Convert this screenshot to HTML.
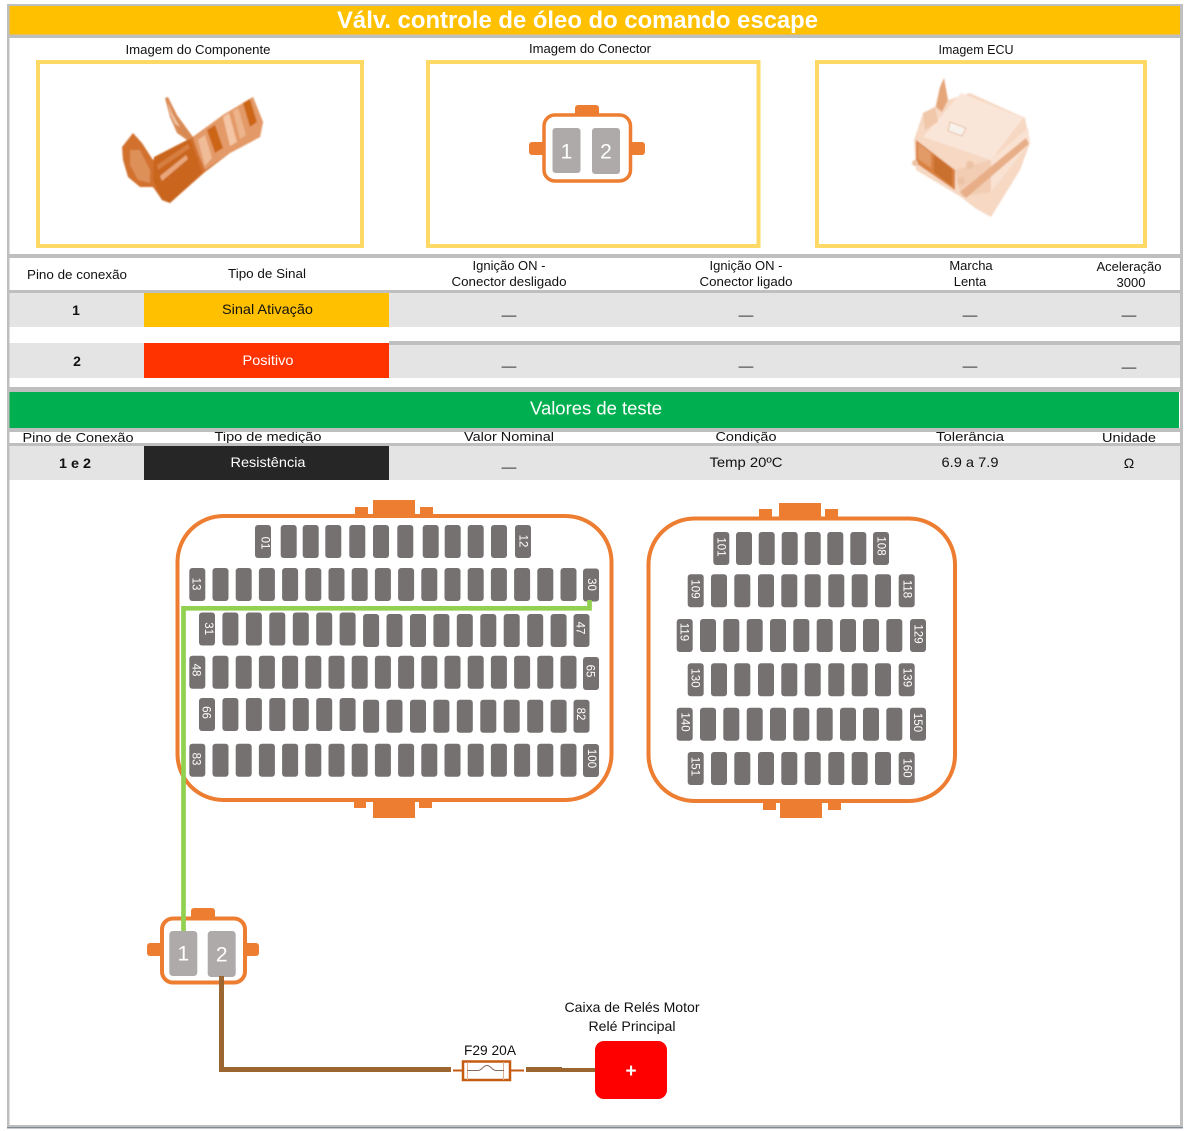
<!DOCTYPE html>
<html lang="pt">
<head>
<meta charset="utf-8">
<title>Válv. controle de óleo do comando escape</title>
<style>
html,body{margin:0;padding:0;background:#fff;width:1189px;height:1131px;overflow:hidden}
svg{display:block;font-family:"Liberation Sans",Arial,sans-serif}
.c{text-anchor:middle;font-size:13px;fill:#111}
.l{text-anchor:middle;font-size:11.5px;fill:#fff;dominant-baseline:central}
.n{text-anchor:middle;font-size:21px;fill:#fff;dominant-baseline:central}
</style>
</head>
<body>
<svg width="1189" height="1131" viewBox="0 0 1189 1131" xmlns="http://www.w3.org/2000/svg">
<defs>
<rect id="p" width="16" height="33" rx="3" fill="#767171"/>
<filter id="b" x="-10%" y="-10%" width="120%" height="120%"><feGaussianBlur stdDeviation="0.9"/></filter>
<g id="r18">
<use href="#p" x="212.5"/><use href="#p" x="235.7"/><use href="#p" x="258.9"/><use href="#p" x="282.1"/><use href="#p" x="305.3"/><use href="#p" x="328.5"/><use href="#p" x="351.7"/><use href="#p" x="374.9"/><use href="#p" x="398.1"/><use href="#p" x="421.3"/><use href="#p" x="444.5"/><use href="#p" x="467.7"/><use href="#p" x="490.9"/><use href="#p" x="514.1"/><use href="#p" x="537.3"/><use href="#p" x="560.5"/><use href="#p" x="189.3"/>
</g>
<g id="r17a"><use href="#p" x="199"/><use href="#p" x="222.4"/><use href="#p" x="245.9"/><use href="#p" x="269.3"/><use href="#p" x="292.8"/><use href="#p" x="316.2"/><use href="#p" x="339.6"/></g>
<g id="r17b"><use href="#p" x="363.1"/><use href="#p" x="386.5"/><use href="#p" x="410"/><use href="#p" x="433.4"/><use href="#p" x="456.8"/><use href="#p" x="480.3"/><use href="#p" x="503.7"/><use href="#p" x="527.2"/><use href="#p" x="550.6"/><use href="#p" x="573.5"/></g>
<g id="s10"><use href="#p" x="687.7"/><use href="#p" x="711"/><use href="#p" x="734.3"/><use href="#p" x="758"/><use href="#p" x="781.3"/><use href="#p" x="804.7"/><use href="#p" x="828.3"/><use href="#p" x="851.7"/><use href="#p" x="875"/><use href="#p" x="898.7"/></g>
<g id="s11"><use href="#p" x="676.7"/><use href="#p" x="700"/><use href="#p" x="723.3"/><use href="#p" x="746.7"/><use href="#p" x="770"/><use href="#p" x="793.3"/><use href="#p" x="816.7"/><use href="#p" x="840"/><use href="#p" x="863"/><use href="#p" x="886.3"/><use href="#p" x="910"/></g>
</defs>

<!-- Title -->
<rect x="9" y="6" width="1171" height="29" fill="#FFC000"/>
<text x="577.5" y="28" text-anchor="middle" font-size="24" font-weight="bold" fill="#fff" textLength="481" lengthAdjust="spacingAndGlyphs">Válv. controle de óleo do comando escape</text>

<!-- Image labels -->
<text class="c" x="198" y="54" textLength="145" lengthAdjust="spacingAndGlyphs">Imagem do Componente</text>
<text class="c" x="590" y="53" textLength="122" lengthAdjust="spacingAndGlyphs">Imagem do Conector</text>
<text class="c" x="976" y="54" textLength="75" lengthAdjust="spacingAndGlyphs">Imagem ECU</text>

<!-- Image frames -->
<rect x="38" y="62" width="324" height="184" fill="#fff" stroke="#FFD966" stroke-width="4"/>
<rect x="428" y="62" width="330.5" height="184" fill="#fff" stroke="#FFD966" stroke-width="4"/>
<rect x="817" y="62" width="328" height="184" fill="#fff" stroke="#FFD966" stroke-width="4"/>

<!-- Valve picture -->
<g filter="url(#b)">
<polygon points="165,98 168,97 177,115 193,137 187,140 177,133 170,117" fill="#D98A52"/>
<polygon points="168,102 172,113 180,127 175,124 170,113" fill="#F0C4A4"/>
<polygon points="122,147 133,133 142,143 153,160 158,155 187,140 193,137 223,115 253,97 263,122 260,137 230,153 205,172 170,203 162,200 153,187 140,187 128,177 123,160" fill="#D2712F"/>
<polygon points="154,157 190,139 198,160 202,173 170,203 162,200 153,180" fill="#C9651F"/>
<polygon points="193,138 223,115 253,97 263,122 260,137 230,153 205,170 198,153" fill="#E39A68"/>
<polygon points="160,176 186,155 188,159 162,181" fill="#E9A67A"/>
<polygon points="157,165 188,144 190,148 158,170" fill="#D67E40"/>
<polygon points="207,130 215,125 223,148 215,153" fill="#CC6618"/>
<polygon points="223,117 229,113 237,142 230,146" fill="#F4C6A6"/>
<polygon points="233,111 238,108 246,135 240,139" fill="#EDB48C"/>
<polygon points="243,103 250,99 257,122 250,127" fill="#CC6618"/>
<polygon points="198,140 205,135 212,158 205,166" fill="#F0BC98"/>
<polygon points="130,150 140,150 150,170 150,183 138,180 130,165" fill="#DD9058"/>
</g>

<!-- ECU picture -->
<g filter="url(#b)">
<polygon points="944,78 948,100 970,93 1025,118 1030,143 1020,170 991,217 975,208 961,197 916,170 914,140 923,113 935,107 940,87" fill="#F6D8C3"/>
<polygon points="961,93 1023,118 991,160 923,137" fill="#FAE6D9"/>
<polygon points="916,140 955,170 955,190 916,163" fill="#D9813F"/>
<polygon points="918,143 931,153 931,168 918,159" fill="#E29A66"/>
<polygon points="934,155 952,169 952,186 934,172" fill="#C96F2E"/>
<polygon points="955,170 991,160 991,192 961,197" fill="#F2CDB3"/>
<polygon points="991,160 1028,128 1030,143 991,192" fill="#F9E2D2"/>
<polygon points="960,192 1026,138 1029,144 966,198" fill="#E8AE88"/>
<polygon points="950,122 966,128 962,136 948,131" fill="#F8F2EC" stroke="#E2B28F" stroke-width=".8"/>
<polygon points="944,78 948,100 942,112 936,107 940,87" fill="#E5A67A"/>
<polygon points="923,113 935,107 938,122 925,130" fill="#F0C7A9"/>
<circle cx="970" cy="165" r="4" fill="#EDC3A5"/><circle cx="961" cy="181" r="4" fill="#EDC3A5"/><circle cx="915" cy="163" r="3" fill="#EDC3A5"/>
</g>

<!-- Table 1 text -->
<text class="c" x="77" y="279" textLength="100" lengthAdjust="spacingAndGlyphs">Pino de conexão</text>
<text class="c" x="267" y="278" textLength="78" lengthAdjust="spacingAndGlyphs">Tipo de Sinal</text>
<text class="c" x="509" y="270">Ignição ON -</text>
<text class="c" x="509" y="286" textLength="115" lengthAdjust="spacingAndGlyphs">Conector desligado</text>
<text class="c" x="746" y="270">Ignição ON -</text>
<text class="c" x="746" y="286" textLength="93" lengthAdjust="spacingAndGlyphs">Conector ligado</text>
<text class="c" x="971" y="270">Marcha</text>
<text class="c" x="970" y="286">Lenta</text>
<text class="c" x="1129" y="271">Aceleração</text>
<text class="c" x="1131" y="287">3000</text>

<rect x="9" y="293" width="1171" height="34" fill="#E4E4E4"/>
<rect x="9" y="343" width="1171" height="35" fill="#E4E4E4"/>
<rect x="144" y="293" width="245" height="34" fill="#FFC000"/>
<rect x="144" y="343" width="245" height="35" fill="#FF3300"/>
<text class="c" x="76" y="315" style="font-weight:bold;font-size:14px">1</text>
<text class="c" x="77" y="366" style="font-weight:bold;font-size:14px">2</text>
<text class="c" x="267.5" y="314" style="font-size:14px" textLength="91" lengthAdjust="spacingAndGlyphs">Sinal Ativação</text>
<text class="c" x="268" y="365" style="font-size:14px;fill:#fff" textLength="51" lengthAdjust="spacingAndGlyphs">Positivo</text>
<text class="c" x="509" y="314">__</text><text class="c" x="746" y="314">__</text><text class="c" x="970" y="314">__</text><text class="c" x="1129" y="314">__</text>
<text class="c" x="509" y="365">__</text><text class="c" x="746" y="365">__</text><text class="c" x="970" y="365">__</text><text class="c" x="1129" y="366">__</text>

<!-- Table 2 text (clipped by bars drawn afterwards) -->
<text class="c" x="78" y="442" textLength="111" lengthAdjust="spacingAndGlyphs">Pino de Conexão</text>
<text class="c" x="268" y="441" textLength="107" lengthAdjust="spacingAndGlyphs">Tipo de medição</text>
<text class="c" x="509" y="441" textLength="90" lengthAdjust="spacingAndGlyphs">Valor Nominal</text>
<text class="c" x="746" y="441" textLength="61" lengthAdjust="spacingAndGlyphs">Condição</text>
<text class="c" x="970" y="441" textLength="68" lengthAdjust="spacingAndGlyphs">Tolerância</text>
<text class="c" x="1129" y="442" textLength="54" lengthAdjust="spacingAndGlyphs">Unidade</text>

<rect x="9" y="392" width="1170" height="36" fill="#00B050"/>
<text x="596" y="414.5" text-anchor="middle" font-size="18" fill="#fff" textLength="132" lengthAdjust="spacingAndGlyphs">Valores de teste</text>

<rect x="9" y="446" width="1171" height="34" fill="#E4E4E4"/>
<rect x="144" y="446" width="245" height="34" fill="#262626"/>
<text class="c" x="75" y="468" style="font-weight:bold;font-size:14px" textLength="32" lengthAdjust="spacingAndGlyphs">1 e 2</text>
<text class="c" x="268" y="467" style="font-size:14px;fill:#fff" textLength="75" lengthAdjust="spacingAndGlyphs">Resistência</text>
<text class="c" x="509" y="466">__</text>
<text class="c" x="746" y="467" style="font-size:14px" textLength="73" lengthAdjust="spacingAndGlyphs">Temp 20ºC</text>
<text class="c" x="970" y="467" style="font-size:14px" textLength="57" lengthAdjust="spacingAndGlyphs">6.9 a 7.9</text>
<text class="c" x="1129" y="468" style="font-size:14px">Ω</text>

<!-- Gray rules and frame -->
<g fill="#BFBFBF">
<rect x="7" y="4" width="1176" height="2"/>
<rect x="7" y="4" width="2.5" height="1124"/>
<rect x="1180" y="4" width="3" height="1124"/>
<rect x="9" y="34.5" width="1171" height="3.5"/>
<rect x="9" y="254" width="1171" height="4"/>
<rect x="9" y="290" width="1171" height="3"/>
<rect x="389" y="341" width="791" height="4"/>
<rect x="9" y="387" width="1171" height="5"/>
<rect x="9" y="428" width="1171" height="4"/>
<rect x="9" y="443" width="1171" height="3"/>
<rect x="7" y="1125" width="1176" height="3"/>
</g>
<rect x="7" y="1127.5" width="1176" height="0.8" fill="#44546A"/>

<!-- Connector in image -->
<g fill="#ED7D31">
<rect x="575" y="105" width="24" height="12" rx="3"/>
<rect x="529" y="142" width="16" height="13" rx="3"/>
<rect x="630" y="142" width="15" height="13" rx="3"/>
</g>
<rect x="544" y="115" width="86.5" height="66" rx="11" fill="#fff" stroke="#ED7D31" stroke-width="3.5"/>
<rect x="552.5" y="128" width="28" height="45" rx="3" fill="#AEAAAA"/>
<rect x="592" y="128" width="28" height="46" rx="3" fill="#AEAAAA"/>
<text class="n" x="566.5" y="152">1</text>
<text class="n" x="606" y="152">2</text>

<!-- ECU connector A -->
<g fill="#ED7D31">
<rect x="355" y="507" width="13" height="9"/><rect x="373" y="500" width="42" height="16"/><rect x="420" y="507" width="13" height="9"/>
<rect x="354" y="799" width="12" height="9"/><rect x="373" y="800" width="42" height="18"/><rect x="419" y="799" width="13" height="9"/>
</g>
<rect x="177.5" y="516" width="434" height="284" rx="46" fill="#fff" stroke="#ED7D31" stroke-width="4"/>

<use href="#p" x="255" y="525"/><use href="#p" x="280.7" y="525"/><use href="#p" x="302.7" y="525"/><use href="#p" x="325.3" y="525"/><use href="#p" x="349.3" y="525"/><use href="#p" x="373" y="525"/><use href="#p" x="397.3" y="525"/><use href="#p" x="422.7" y="525"/><use href="#p" x="444.7" y="525"/><use href="#p" x="467.7" y="525"/><use href="#p" x="491" y="525"/><use href="#p" x="515" y="525"/>
<use href="#r18" y="568"/><use href="#p" x="583" y="568.5"/>
<use href="#r17a" y="612.5"/><use href="#r17b" y="614"/>
<use href="#r18" y="655.7"/><use href="#p" x="583" y="657"/>
<use href="#r17a" y="698"/><use href="#r17b" y="699.7"/>
<use href="#r18" y="743.7"/><use href="#p" x="583" y="744"/>

<text class="l" transform="translate(264.5 543) rotate(90)">01</text>
<text class="l" transform="translate(522.5 541) rotate(90)">12</text>
<text class="l" transform="translate(195.5 584) rotate(90)">13</text>
<text class="l" transform="translate(591 584.5) rotate(90)">30</text>
<text class="l" transform="translate(208 628.7) rotate(90)">31</text>
<text class="l" transform="translate(579.5 628) rotate(90)">47</text>
<text class="l" transform="translate(195.5 670) rotate(90)">48</text>
<text class="l" transform="translate(589.5 671) rotate(90)">65</text>
<text class="l" transform="translate(205.5 712.5) rotate(90)">66</text>
<text class="l" transform="translate(580 714) rotate(90)">82</text>
<text class="l" transform="translate(195.5 759) rotate(90)">83</text>
<text class="l" transform="translate(591 758.5) rotate(90)">100</text>

<!-- ECU connector B -->
<g fill="#ED7D31">
<rect x="759" y="509" width="13" height="10"/><rect x="779" y="503" width="42" height="16"/><rect x="825" y="509" width="13" height="10"/>
<rect x="763" y="801" width="13" height="9"/><rect x="780" y="801" width="42" height="17"/><rect x="828" y="801" width="13" height="9"/>
</g>
<rect x="648.5" y="518.5" width="306.5" height="282.5" rx="46" fill="#fff" stroke="#ED7D31" stroke-width="4"/>

<use href="#p" x="713.3" y="532"/><use href="#p" x="736" y="532"/><use href="#p" x="758.7" y="532"/><use href="#p" x="781.7" y="532"/><use href="#p" x="804.7" y="532"/><use href="#p" x="827.3" y="532"/><use href="#p" x="850.3" y="532"/><use href="#p" x="873" y="532"/>
<use href="#s10" y="574.3"/><use href="#s11" y="619"/><use href="#s10" y="663.3"/><use href="#s11" y="707.7"/><use href="#s10" y="752"/>

<text class="l" transform="translate(720.3 547) rotate(90)">101</text>
<text class="l" transform="translate(880.3 546) rotate(90)">108</text>
<text class="l" transform="translate(694.3 589) rotate(90)">109</text>
<text class="l" transform="translate(906.5 589) rotate(90)">118</text>
<text class="l" transform="translate(683.7 632) rotate(90)">119</text>
<text class="l" transform="translate(917.3 634) rotate(90)">129</text>
<text class="l" transform="translate(694.3 678) rotate(90)">130</text>
<text class="l" transform="translate(906.3 677.5) rotate(90)">139</text>
<text class="l" transform="translate(684.3 722) rotate(90)">140</text>
<text class="l" transform="translate(917 722.5) rotate(90)">150</text>
<text class="l" transform="translate(694.3 766.5) rotate(90)">151</text>
<text class="l" transform="translate(906.3 768) rotate(90)">160</text>

<!-- Small connector -->
<g fill="#ED7D31">
<rect x="191" y="908" width="24" height="12" rx="3"/>
<rect x="147" y="943" width="16" height="13" rx="3"/>
<rect x="243" y="943" width="16" height="13" rx="3"/>
</g>
<rect x="162" y="918.5" width="83" height="64" rx="11" fill="#fff" stroke="#ED7D31" stroke-width="4"/>
<rect x="169.3" y="931" width="28" height="45" rx="3.5" fill="#AEAAAA"/>
<rect x="207.7" y="931" width="28" height="46" rx="3.5" fill="#AEAAAA"/>
<text class="n" x="183.3" y="954">1</text>
<text class="n" x="221.7" y="955">2</text>

<!-- Wires -->
<path d="M589.5 600V608.3H183.5V931" fill="none" stroke="#92D050" stroke-width="4.7"/>
<path d="M221.5 976V1069.5H451" fill="none" stroke="#9C6630" stroke-width="5"/>
<rect x="526" y="1067" width="36" height="5" fill="#9C6630"/>
<rect x="562" y="1068" width="34" height="4" fill="#9C6630"/>

<!-- Fuse -->
<text x="490" y="1055" text-anchor="middle" font-size="14" fill="#111" textLength="52" lengthAdjust="spacingAndGlyphs">F29 20A</text>
<path d="M453 1070.5H463M510 1070.5H524" stroke="#C55A11" stroke-width="2" fill="none"/>
<rect x="463" y="1061.5" width="47" height="18.5" fill="#fff" stroke="#C55A11" stroke-width="2.5"/>
<path d="M467.5 1062V1080M503.5 1062V1080" stroke="#E0AD92" stroke-width="1" fill="none"/>
<path d="M467 1070.5H478C482 1070.5 483 1065.5 487 1065.5C491 1065.5 492 1070.5 496 1070.5H504" stroke="#8A6A5A" stroke-width="1" fill="none"/>

<!-- Relay -->
<text x="632" y="1012" text-anchor="middle" font-size="14" fill="#111" textLength="135" lengthAdjust="spacingAndGlyphs">Caixa de Relés Motor</text>
<text x="632" y="1031" text-anchor="middle" font-size="14" fill="#111" textLength="87" lengthAdjust="spacingAndGlyphs">Relé Principal</text>
<rect x="595" y="1041" width="72" height="58" rx="9" fill="#FF0000"/>
<text x="631" y="1077" text-anchor="middle" font-size="19" font-weight="bold" fill="#fff">+</text>
</svg>
</body>
</html>
